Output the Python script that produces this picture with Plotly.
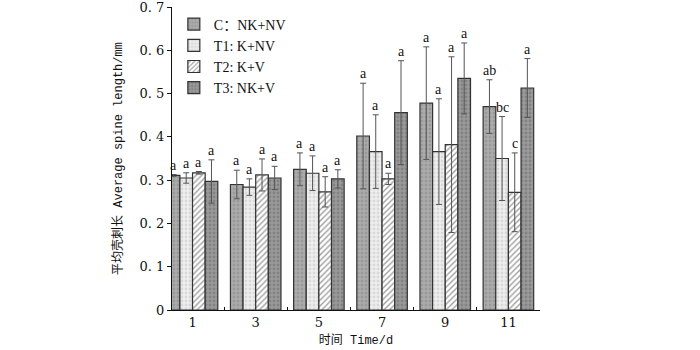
import plotly.graph_objects as go

days = [1, 3, 5, 7, 9, 11]
series_names = ["C：NK+NV", "T1: K+NV", "T2: K+V", "T3: NK+V"]
c_vals = [0.311, 0.290, 0.325, 0.402, 0.478, 0.470]
c_err = [0.002, 0.033, 0.038, 0.122, 0.130, 0.062]
t1_vals = [0.305, 0.284, 0.316, 0.366, 0.366, 0.350]
t1_err = [0.012, 0.019, 0.040, 0.085, 0.122, 0.097]
t2_vals = [0.317, 0.312, 0.273, 0.303, 0.382, 0.272]
t2_err = [0.003, 0.037, 0.035, 0.013, 0.203, 0.091]
t3_vals = [0.297, 0.305, 0.303, 0.456, 0.535, 0.513]
t3_err = [0.050, 0.027, 0.021, 0.120, 0.082, 0.068]
c_lab = ["a", "a", "a", "a", "a", "ab"]
t1_lab = ["a", "a", "a", "a", "a", "bc"]
t2_lab = ["a", "a", "a", "a", "a", "c"]
t3_lab = ["a", "a", "a", "a", "a", "a"]
y_ticks = [0, 0.1, 0.2, 0.3, 0.4, 0.5, 0.6, 0.7]
y_ticktext = ["0", "0. 1", "0. 2", "0. 3", "0. 4", "0. 5", "0. 6", "0. 7"]

styles = [
    dict(bg="#acacac", fg="#858585", shape="."),
    dict(bg="#eeeeee", fg="#c4c4c4", shape="."),
    dict(bg="#ffffff", fg="#404040", shape="/"),
    dict(bg="#9a9a9a", fg="#6a6a6a", shape="."),
]
vals = [c_vals, t1_vals, t2_vals, t3_vals]
errs = [c_err, t1_err, t2_err, t3_err]
labs = [c_lab, t1_lab, t2_lab, t3_lab]

serif = "Liberation Serif, Noto Sans CJK SC, serif"
mono = "Liberation Mono, Noto Sans CJK SC, monospace"

fig = go.Figure()
for name, v, e, st in zip(series_names, vals, errs, styles):
    fig.add_trace(go.Bar(
        x=days, y=v, name=name,
        marker=dict(color=st["bg"], line=dict(color="#333333", width=1.2),
                    pattern=dict(shape=st["shape"], fgcolor=st["fg"], bgcolor=st["bg"],
                                 size=4, solidity=0.4 if st["shape"] == "." else 0.35)),
        error_y=dict(type="data", array=e, visible=True, color="#555555",
                     thickness=1, width=3),
    ))

# letters above error bars
n = 4
group_width = 2 * (1 - 0.2)
bar_w = group_width / n
for i, (v, e, lb) in enumerate(zip(vals, errs, labs)):
    for d, yv, ev, t in zip(days, v, e, lb):
        xpos = d - group_width / 2 + bar_w * (i + 0.5)
        fig.add_annotation(x=xpos, y=yv + ev, text=t, showarrow=False,
                           yanchor="bottom", yshift=0,
                           font=dict(size=14, family=serif, color="#111111"))

fig.update_layout(
    width=700, height=350,
    margin=dict(l=172, r=160, t=7, b=40),
    barmode="group", bargap=0.2, bargroupgap=0,
    plot_bgcolor="white", paper_bgcolor="white",
    font=dict(family=serif, size=12, color="#111111"),
    legend=dict(x=0.005, y=0.995, xanchor="left", yanchor="top",
                bgcolor="rgba(255,255,255,0)", font=dict(size=14, family=serif),
                tracegroupgap=0, itemwidth=30),
    showlegend=True,
    xaxis=dict(range=[0.35, 12], tickvals=days, ticktext=[str(d) for d in days],
               automargin=False,
               showline=True, linecolor="#111111", linewidth=1.2, ticks="",
               showgrid=False, zeroline=False,
               minor=dict(tickvals=[2, 4, 6, 8, 10], ticks="inside", ticklen=3,
                          tickcolor="#111111", showgrid=False),
               title=dict(text="时间 Time/d", standoff=6,
                          font=dict(size=12, family=mono)),
               tickfont=dict(size=13, family="DejaVu Serif, serif")),
    yaxis=dict(range=[0, 0.7001], tickvals=y_ticks, ticktext=y_ticktext,
               automargin=False, ticklabeloverflow="allow",
               showline=True, linecolor="#111111", linewidth=1.2, ticks="outside",
               ticklen=4, tickcolor="#111111", showgrid=False, zeroline=False,
               title=dict(text="平均壳刺长 Average spine length/mm", standoff=14,
                          font=dict(size=12, family=mono)),
               tickfont=dict(size=13, family="DejaVu Serif, serif")),
)

fig.write_html("out.html", config={"displayModeBar": False},
               post_script="document.body.style.margin='0';document.body.style.padding='0';")
